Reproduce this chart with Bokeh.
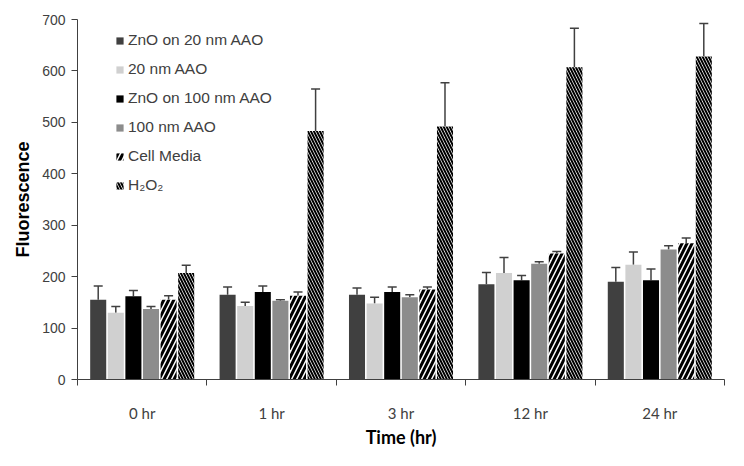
from bokeh.plotting import figure
from bokeh.models import Range1d, FixedTicker, ColumnDataSource, Whisker, TeeHead, Legend, LegendItem
from bokeh.embed import file_html
from bokeh.resources import INLINE

times = ["0 hr", "1 hr", "3 hr", "12 hr", "24 hr"]
series = ["ZnO on 20 nm AAO", "20 nm AAO", "ZnO on 100 nm AAO", "100 nm AAO", "Cell Media", "H\u2082O\u2082"]
zno20 = [155, 165, 165, 185, 190]
zno20_err = [27, 15, 13, 23, 28]
aao20 = [130, 143, 148, 207, 223]
aao20_err = [12, 7, 12, 30, 25]
zno100 = [162, 170, 170, 193, 193]
zno100_err = [11, 12, 10, 9, 22]
aao100 = [137, 153, 160, 225, 253]
aao100_err = [5, 2, 5, 4, 7]
media = [155, 163, 175, 245, 265]
media_err = [8, 7, 5, 4, 10]
h2o2 = [207, 483, 492, 607, 628]
h2o2_err = [15, 82, 85, 76, 64]

values = [zno20, aao20, zno100, aao100, media, h2o2]
errors = [zno20_err, aao20_err, zno100_err, aao100_err, media_err, h2o2_err]

styles = [
    dict(fill_color="#404040"),
    dict(fill_color="#d0d0d0"),
    dict(fill_color="#000000"),
    dict(fill_color="#8c8c8c"),
    dict(fill_color="white", hatch_pattern="/", hatch_color="black", hatch_scale=10, hatch_weight=3),
    dict(fill_color="white", hatch_pattern="\\", hatch_color="black", hatch_scale=6, hatch_weight=2),
]

FONT = "Liberation Sans"
XFONT = "Lato"
p = figure(width=728, height=450, output_backend="svg", toolbar_location=None,
           x_range=Range1d(0, 5), y_range=Range1d(0, 700),
           min_border_left=77, min_border_right=4, min_border_top=19, min_border_bottom=10)
p.outline_line_color = None
p.grid.grid_line_color = None
p.background_fill_color = "white"

step = 0.136
width = 0.124
items = []
for i, (name, vals, errs, st) in enumerate(zip(series, values, errors, styles)):
    xs = [g + 0.5 + (i - 2.5) * step for g in range(len(times))]
    src = ColumnDataSource(dict(x=xs, top=vals, up=[v + e for v, e in zip(vals, errs)]))
    r = p.vbar(x="x", top="top", width=width, source=src, line_color=None, **st)
    items.append(LegendItem(label=name, renderers=[r]))
    w = Whisker(base="x", lower="top", upper="up", source=src, dimension="height",
                line_color="#404040", line_width=1.5,
                lower_head=None,
                upper_head=TeeHead(size=9, line_color="#404040", line_width=1.5))
    p.add_layout(w)

legend = Legend(items=items, location=(38, 184), border_line_color=None,
                background_fill_alpha=0, glyph_width=9, glyph_height=9,
                label_height=20, spacing=9, padding=5, label_standoff=4,
                label_text_font=FONT, label_text_font_size="15.5px", label_text_color="#404040")
p.add_layout(legend)

# x axis: labels at group centers, ticks at group boundaries
p.xaxis.ticker = FixedTicker(ticks=[g + 0.5 for g in range(len(times))],
                             minor_ticks=list(range(len(times) + 1)))
p.xaxis.major_label_overrides = {g + 0.5: t for g, t in enumerate(times)}
p.xaxis.major_tick_out = 0
p.xaxis.major_tick_in = 0
p.xaxis.minor_tick_out = 6
p.xaxis.minor_tick_in = 0
p.xaxis.major_label_standoff = 18
p.xaxis.axis_label = "Time (hr)"
p.xaxis.axis_label_standoff = 1

p.yaxis.ticker = FixedTicker(ticks=list(range(0, 701, 100)))
p.yaxis.major_tick_out = 6
p.yaxis.major_tick_in = 0
p.yaxis.minor_tick_out = 0
p.yaxis.minor_tick_in = 0
p.yaxis.major_label_standoff = 6
p.yaxis.axis_label = "Fluorescence"
p.yaxis.axis_label_standoff = 6

for ax in (p.xaxis, p.yaxis):
    ax.axis_line_color = "#404040"
    ax.major_tick_line_color = "#404040"
    ax.minor_tick_line_color = "#404040"
    ax.major_label_text_color = "#404040"
    ax.axis_label_text_font_style = "bold"
    ax.axis_label_text_color = "#000000"

p.yaxis.major_label_text_font = FONT
p.yaxis.major_label_text_font_size = "14px"
p.yaxis.axis_label_text_font = FONT
p.yaxis.axis_label_text_font_size = "18px"
p.xaxis.major_label_text_font = XFONT
p.xaxis.major_label_text_font_size = "15px"
p.xaxis.axis_label_text_font = XFONT
p.xaxis.axis_label_text_font_size = "18px"

open("out.html", "w").write(file_html(p, INLINE))
